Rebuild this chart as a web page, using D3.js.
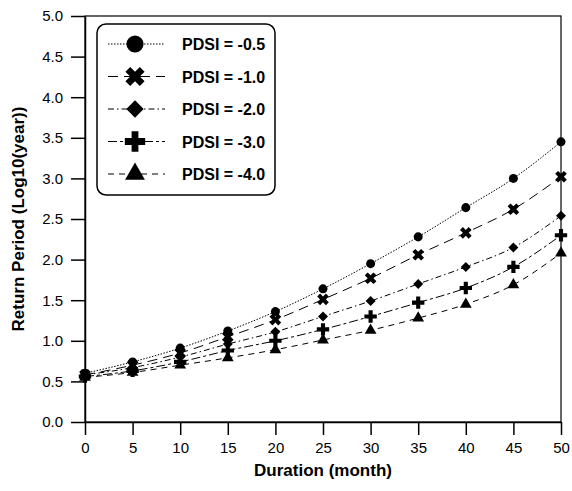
<!DOCTYPE html>
<html>
<head>
<meta charset="utf-8">
<script src="https://cdn.jsdelivr.net/npm/d3@7"></script>
<style>
  body { margin: 0; background: #fff; }
  text { font-family: 'Liberation Sans', Arial, sans-serif; }
</style>
</head>
<body>
<div id="chart"></div>
<script>
const durations = [0, 5, 10, 15, 20, 25, 30, 35, 40, 45, 50];
const xTicks = [0, 5, 10, 15, 20, 25, 30, 35, 40, 45, 50];
const yTicks = [0, 0.5, 1, 1.5, 2, 2.5, 3, 3.5, 4, 4.5, 5];
const seriesNames = ['PDSI = -0.5', 'PDSI = -1.0', 'PDSI = -2.0', 'PDSI = -3.0', 'PDSI = -4.0'];
const pdsi05 = [0.60, 0.74, 0.91, 1.12, 1.36, 1.64, 1.95, 2.28, 2.64, 3.00, 3.45];
const pdsi10 = [0.58, 0.70, 0.85, 1.05, 1.26, 1.51, 1.77, 2.06, 2.33, 2.62, 3.02];
const pdsi20 = [0.58, 0.67, 0.80, 0.96, 1.11, 1.30, 1.49, 1.70, 1.91, 2.15, 2.54];
const pdsi30 = [0.56, 0.63, 0.74, 0.88, 1.00, 1.14, 1.30, 1.47, 1.65, 1.91, 2.30];
const pdsi40 = [0.55, 0.61, 0.70, 0.79, 0.89, 1.01, 1.13, 1.28, 1.45, 1.69, 2.08];

const W = 572, H = 491;
const margin = {top: 16, right: 11, bottom: 69, left: 85};
const width = W - margin.left - margin.right;
const height = H - margin.top - margin.bottom;

const styles = [
  {shape: d3.symbolCircle, rot: 0, size: 64, lsize: 230, dash: '1.5,1.5'},
  {shape: d3.symbolCross, rot: 45, size: 85, lsize: 230, dash: '10,6'},
  {shape: d3.symbolSquare, rot: 45, size: 50, lsize: 150, dash: '6,3,1.5,3'},
  {shape: d3.symbolCross, rot: 0, size: 85, lsize: 230, dash: '9,3,3,3'},
  {shape: d3.symbolTriangle, rot: 0, size: 60, lsize: 170, dash: '6,5'}
];

const series = [pdsi05, pdsi10, pdsi20, pdsi30, pdsi40].map((vals, i) => ({
  name: seriesNames[i],
  style: styles[i],
  points: durations.map((d, j) => ({x: d, y: vals[j]}))
}));

const svg = d3.select('#chart').append('svg')
  .attr('width', W)
  .attr('height', H);

const g = svg.append('g')
  .attr('transform', 'translate(' + margin.left + ',' + margin.top + ')');

const x = d3.scaleLinear().domain([0, 50]).range([0, width]);
const y = d3.scaleLinear().domain([0, 5]).range([height, 0]);

// frame
g.append('rect')
  .attr('width', width)
  .attr('height', height)
  .attr('fill', 'none')
  .attr('stroke', '#000')
  .attr('stroke-width', 1.2);

// axes
const xAxis = g.append('g')
  .attr('transform', 'translate(0,' + height + ')')
  .call(d3.axisBottom(x).tickValues(xTicks).tickFormat(d3.format('d')).tickSizeInner(13).tickSizeOuter(0).tickPadding(7));

const yAxis = g.append('g')
  .call(d3.axisLeft(y).tickValues(yTicks).tickFormat(d3.format('.1f')).tickSizeInner(14).tickSizeOuter(0).tickPadding(8));

[xAxis, yAxis].forEach(a => {
  a.select('.domain').attr('stroke-width', 1.5);
  a.selectAll('.tick line').attr('stroke-width', 1.5);
  a.selectAll('.tick text').attr('font-size', 15).attr('fill', '#000')
    .style('font-family', "'Liberation Sans', Arial, sans-serif");
});

// axis titles
svg.append('text')
  .attr('x', margin.left + width / 2)
  .attr('y', 476)
  .attr('text-anchor', 'middle')
  .attr('font-size', 17)
  .attr('font-weight', 'bold')
  .text('Duration (month)');

svg.append('text')
  .attr('transform', 'translate(24,' + (margin.top + height / 2) + ') rotate(-90)')
  .attr('text-anchor', 'middle')
  .attr('font-size', 17)
  .attr('font-weight', 'bold')
  .text('Return Period (Log10(year))');

// lines
const line = d3.line()
  .x(d => x(d.x))
  .y(d => y(d.y))
  .curve(d3.curveMonotoneX);

const sg = g.selectAll('.series')
  .data(series)
  .enter().append('g')
  .attr('class', 'series');

sg.append('path')
  .attr('d', d => line(d.points))
  .attr('fill', 'none')
  .attr('stroke', '#000')
  .attr('stroke-width', 1)
  .attr('stroke-dasharray', d => d.style.dash);

sg.each(function(s) {
  d3.select(this).selectAll('path.mark')
    .data(s.points)
    .enter().append('path')
    .attr('class', 'mark')
    .attr('d', d3.symbol().type(s.style.shape).size(s.style.size))
    .attr('transform', d => 'translate(' + x(d.x) + ',' + y(d.y) + ') rotate(' + s.style.rot + ')')
    .attr('fill', '#000');
});

// legend
const legend = svg.append('g')
  .attr('transform', 'translate(97,24)');

legend.append('rect')
  .attr('width', 178)
  .attr('height', 171)
  .attr('rx', 9)
  .attr('fill', '#fff')
  .attr('stroke', '#000')
  .attr('stroke-width', 1.5);

const items = legend.selectAll('.item')
  .data(series)
  .enter().append('g')
  .attr('class', 'item')
  .attr('transform', (d, i) => 'translate(0,' + (20 + i * 32.5) + ')');

items.append('line')
  .attr('x1', 11)
  .attr('x2', 68)
  .attr('stroke', '#000')
  .attr('stroke-width', 1)
  .attr('stroke-dasharray', d => d.style.dash);

items.append('path')
  .attr('d', d => d3.symbol().type(d.style.shape).size(d.style.lsize)())
  .attr('transform', d => 'translate(38,0) rotate(' + d.style.rot + ')')
  .attr('fill', '#000');

items.append('text')
  .attr('x', 85)
  .attr('y', 6)
  .attr('font-size', 16)
  .attr('font-weight', 'bold')
  .text(d => d.name);
</script>
</body>
</html>
